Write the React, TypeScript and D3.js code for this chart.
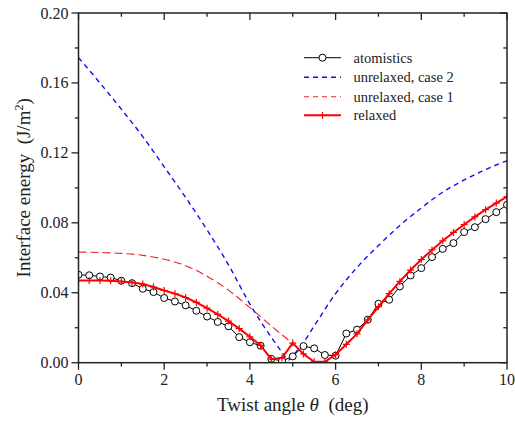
import React from "react";
import * as d3 from "d3";

// ---------- data ----------
const atomX = d3.range(0, 10.001, 0.25);
const atomY = [
  0.0503, 0.05, 0.0493, 0.0487, 0.0469, 0.0455, 0.0423, 0.0404, 0.037, 0.035,
  0.0328, 0.0297, 0.0264, 0.0233, 0.0208, 0.0146, 0.0117, 0.0097, 0.0022, 0.001,
  0.0036, 0.0095, 0.0082, 0.0044, 0.004, 0.0167, 0.0189, 0.0246, 0.0337, 0.036,
  0.0436, 0.0499, 0.0541, 0.0604, 0.0651, 0.0684, 0.0747, 0.0775, 0.0821, 0.0861,
  0.0903,
];

const relaxedX = d3.range(0, 10.001, 0.25);
const relaxedY = [
  0.047, 0.047, 0.047, 0.0468, 0.0465, 0.0459, 0.045, 0.0433, 0.0413, 0.0395,
  0.0373, 0.0345, 0.0312, 0.0276, 0.0238, 0.0195, 0.0148, 0.0099, 0.002, 0.0028,
  0.0112, 0.005, 0.0005, 0.0005, 0.0046, 0.0105, 0.0165, 0.0245, 0.032, 0.0395,
  0.0465, 0.053, 0.059, 0.0645, 0.0697, 0.0745, 0.079, 0.0834, 0.0875, 0.0913,
  0.095,
];

const case2X = [0, 0.5, 1, 1.5, 2, 2.5, 3, 3.5, 4, 4.5, 4.75, 4.9, 5.0, 5.25, 5.5, 6, 6.5, 7, 7.5, 8, 8.5, 9, 9.5, 10];
const case2Y = [
  0.1745, 0.16, 0.145, 0.1293, 0.112, 0.0945, 0.076, 0.056, 0.0335, 0.0145, 0.006, 0.0015,
  0.004, 0.0115, 0.021, 0.0395, 0.0545, 0.067, 0.0785, 0.0885, 0.0975, 0.1045, 0.1105, 0.1155,
];

const case1X = [0, 0.5, 1, 1.5, 2, 2.5, 3, 3.5, 4, 4.5, 5.0];
const case1Y = [0.0633, 0.063, 0.0625, 0.0614, 0.0592, 0.0555, 0.0495, 0.0415, 0.0315, 0.021, 0.011];

const xMajorTicks = [0, 2, 4, 6, 8, 10];
const xMinorTicks = [1, 3, 5, 7, 9];
const yMajorTicks = [0, 0.04, 0.08, 0.12, 0.16, 0.2];
const yMinorTicks = [0.02, 0.06, 0.1, 0.14, 0.18];

const legendLabels = ["atomistics", "unrelaxed, case 2", "unrelaxed, case 1", "relaxed"];

// ---------- layout ----------
const W = 515;
const H = 421;
const L = 78.5;
const R = 507;
const T = 13;
const B = 362.7;

export default function App() {
  const x = d3.scaleLinear().domain([0, 10]).range([L, R]);
  const y = d3.scaleLinear().domain([0, 0.2]).range([B, T]);

  const line = d3
    .line<[number, number]>()
    .x((d) => x(d[0]))
    .y((d) => y(d[1]));
  const smooth = d3
    .line<[number, number]>()
    .x((d) => x(d[0]))
    .y((d) => y(d[1]))
    .curve(d3.curveMonotoneX);

  const atom: [number, number][] = atomX.map((v, i) => [v, atomY[i]]);
  const relaxed: [number, number][] = relaxedX.map((v, i) => [v, relaxedY[i]]);
  const c2: [number, number][] = case2X.map((v, i) => [v, case2Y[i]]);
  const c1: [number, number][] = case1X.map((v, i) => [v, case1Y[i]]);

  const font = "'Liberation Serif', 'Times New Roman', serif";
  const axisStroke = "#222";

  const legendY = [57.7, 77.3, 96.7, 115.3];
  const lx0 = 304;
  const lx1 = 341;

  return (
    <svg width={W} height={H} style={{ position: "absolute", left: 0, top: 0 }} fontFamily={font}>
      <rect x={0} y={0} width={W} height={H} fill="#fff" />
      <defs>
        <clipPath id="plotclip">
          <rect x={L} y={T} width={R - L} height={B - T} />
        </clipPath>
      </defs>

      <g clipPath="url(#plotclip)">
        <path d={smooth(c2) || ""} fill="none" stroke="#1010ee" strokeWidth={1.4} strokeDasharray="5,4" />
        <path d={smooth(c1) || ""} fill="none" stroke="#f02020" strokeWidth={1.1} strokeDasharray="8,4" />
        <path d={line(atom) || ""} fill="none" stroke="#000" strokeWidth={1} />
        {atom.map((d, i) => (
          <circle key={"a" + i} cx={x(d[0])} cy={y(d[1])} r={3.5} fill="#fff" stroke="#000" strokeWidth={1} />
        ))}
        <path d={line(relaxed) || ""} fill="none" stroke="#ff0000" strokeWidth={2} />
        {relaxed.map((d, i) => (
          <g key={"r" + i} stroke="#ff0000" strokeWidth={1.2}>
            <line x1={x(d[0]) - 3.5} x2={x(d[0]) + 3.5} y1={y(d[1])} y2={y(d[1])} />
            <line x1={x(d[0])} x2={x(d[0])} y1={y(d[1]) - 3.5} y2={y(d[1]) + 3.5} />
          </g>
        ))}
      </g>

      {/* frame */}
      <rect x={L} y={T} width={R - L} height={B - T} fill="none" stroke={axisStroke} strokeWidth={1.5} />

      {/* x ticks bottom (out) and top (in) */}
      {xMajorTicks.map((t) => (
        <g key={"xM" + t}>
          <line x1={x(t)} x2={x(t)} y1={B} y2={B + 7} stroke={axisStroke} strokeWidth={1.3} />
          <line x1={x(t)} x2={x(t)} y1={T} y2={T + 7} stroke={axisStroke} strokeWidth={1.3} />
          <text x={x(t)} y={385} textAnchor="middle" fontSize={16} fill="#222">
            {d3.format("d")(t)}
          </text>
        </g>
      ))}
      {xMinorTicks.map((t) => (
        <g key={"xm" + t}>
          <line x1={x(t)} x2={x(t)} y1={B} y2={B + 3.7} stroke={axisStroke} strokeWidth={1.3} />
          <line x1={x(t)} x2={x(t)} y1={T} y2={T + 3.7} stroke={axisStroke} strokeWidth={1.3} />
        </g>
      ))}

      {/* y ticks left (out) and right (in) */}
      {yMajorTicks.map((t) => (
        <g key={"yM" + t}>
          <line x1={L - 7} x2={L} y1={y(t)} y2={y(t)} stroke={axisStroke} strokeWidth={1.3} />
          <line x1={R - 7} x2={R} y1={y(t)} y2={y(t)} stroke={axisStroke} strokeWidth={1.3} />
          <text x={68.5} y={y(t) + 5.5} textAnchor="end" fontSize={16} fill="#222">
            {d3.format(".2f")(t)}
          </text>
        </g>
      ))}
      {yMinorTicks.map((t) => (
        <g key={"ym" + t}>
          <line x1={L - 3.7} x2={L} y1={y(t)} y2={y(t)} stroke={axisStroke} strokeWidth={1.3} />
          <line x1={R - 3.7} x2={R} y1={y(t)} y2={y(t)} stroke={axisStroke} strokeWidth={1.3} />
        </g>
      ))}

      {/* axis titles */}
      <text x={(L + R) / 2} y={411} textAnchor="middle" fontSize={19} fill="#222" xmlSpace="preserve">
        Twist angle <tspan fontStyle="italic">θ</tspan>{"  (deg)"}
      </text>
      <text
        transform={`translate(30, ${(T + B) / 2}) rotate(-90)`}
        textAnchor="middle"
        fontSize={19}
        fill="#222"
        xmlSpace="preserve"
      >
        {"Interface energy  (J/m"}
        <tspan fontSize={12} dy={-7}>2</tspan>
        <tspan dy={7}>)</tspan>
      </text>

      {/* legend */}
      <g>
        <line x1={lx0} x2={lx1} y1={legendY[0]} y2={legendY[0]} stroke="#000" strokeWidth={1} />
        <circle cx={(lx0 + lx1) / 2} cy={legendY[0]} r={3.5} fill="#fff" stroke="#000" strokeWidth={1} />
        <line x1={lx0} x2={lx1} y1={legendY[1]} y2={legendY[1]} stroke="#1010ee" strokeWidth={1.4} strokeDasharray="5,4" />
        <line x1={lx0} x2={lx1} y1={legendY[2]} y2={legendY[2]} stroke="#f02020" strokeWidth={1.1} strokeDasharray="5,4" />
        <line x1={lx0} x2={lx1} y1={legendY[3]} y2={legendY[3]} stroke="#ff0000" strokeWidth={2} />
        <line x1={(lx0 + lx1) / 2} x2={(lx0 + lx1) / 2} y1={legendY[3] - 3.5} y2={legendY[3] + 3.5} stroke="#ff0000" strokeWidth={1.2} />
        {legendLabels.map((lab, i) => (
          <text key={lab} x={353.5} y={legendY[i] + 5} fontSize={14.5} fill="#222">
            {lab}
          </text>
        ))}
      </g>
    </svg>
  );
}
